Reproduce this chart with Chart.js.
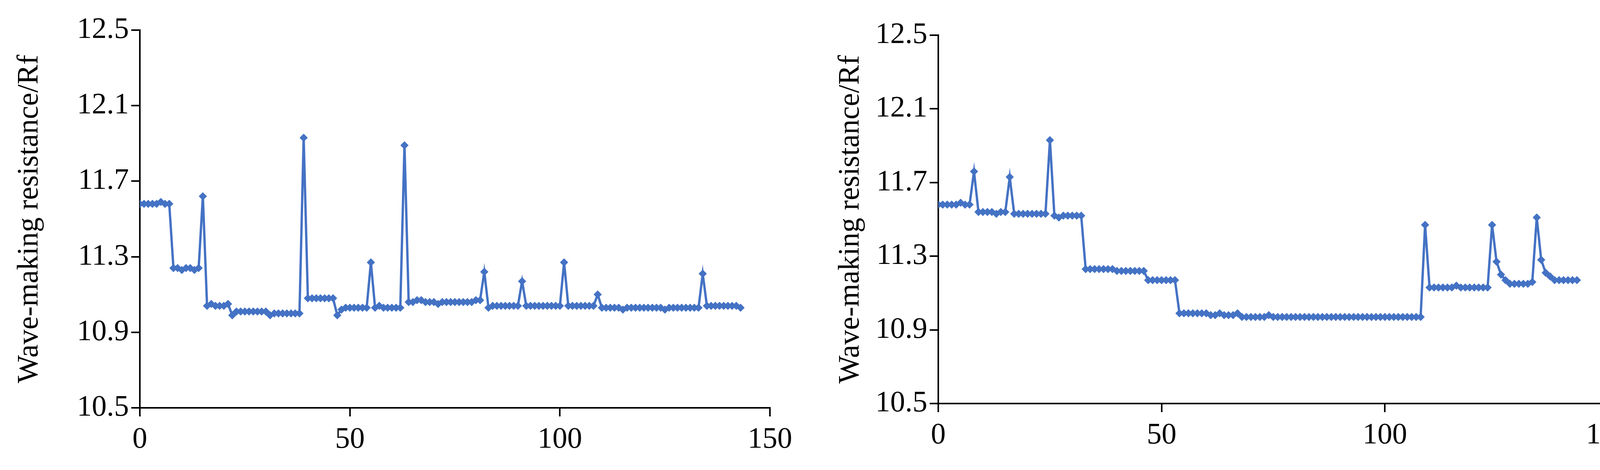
<!DOCTYPE html>
<html><head><meta charset="utf-8">
<script src="https://cdn.jsdelivr.net/npm/chart.js@4"></script>
<style>
body{margin:0;background:#fff;width:4205px;height:1202px;position:relative;overflow:hidden}
.c{position:absolute;top:0;height:1202px}
</style></head><body>
<div class="c" style="left:0;width:2071px"><canvas id="a"></canvas></div>
<div class="c" style="left:2102px;width:2103px"><canvas id="b"></canvas></div>
<script>
const leftValues = [
11.58,11.58,11.58,11.58,11.58,11.59,11.58,11.58,
11.24,11.24,11.23,11.24,11.24,11.23,11.24,
11.62,
11.04,11.05,11.04,11.04,11.04,11.05,
10.99,11.01,11.01,11.01,11.01,11.01,11.01,11.01,11.01,
10.99,11.00,11.00,11.00,11.00,11.00,11.00,11.00,
11.93,
11.08,11.08,11.08,11.08,11.08,11.08,11.08,
10.99,11.02,11.03,11.03,11.03,11.03,11.03,11.03,
11.27,
11.03,11.04,11.03,11.03,11.03,11.03,11.03,
11.89,
11.06,11.06,11.07,11.07,11.06,11.06,11.06,11.05,
11.06,11.06,11.06,11.06,11.06,11.06,11.06,11.06,11.07,11.07,
11.22,
11.03,11.04,11.04,11.04,11.04,11.04,11.04,11.04,
11.17,
11.04,11.04,11.04,11.04,11.04,11.04,11.04,11.04,11.04,
11.27,
11.04,11.04,11.04,11.04,11.04,11.04,11.04,
11.10,
11.03,11.03,11.03,11.03,11.03,11.02,11.03,11.03,11.03,11.03,11.03,11.03,
11.03,11.03,11.03,11.02,11.03,11.03,11.03,11.03,11.03,11.03,11.03,11.03,
11.21,
11.04,11.04,11.04,11.04,11.04,11.04,11.04,11.04,11.03
];
const rightValues = [
11.58,11.58,11.58,11.58,11.58,11.59,11.58,11.58,
11.76,
11.54,11.54,11.54,11.54,11.53,11.54,11.54,
11.73,
11.53,11.53,11.53,11.53,11.53,11.53,11.53,11.53,
11.93,
11.52,11.51,11.52,11.52,11.52,11.52,11.52,
11.23,11.23,11.23,11.23,11.23,11.23,11.23,
11.22,11.22,11.22,11.22,11.22,11.22,11.22,
11.17,11.17,11.17,11.17,11.17,11.17,11.17,
10.99,10.99,10.99,10.99,10.99,10.99,10.99,
10.98,10.98,10.99,10.98,10.98,10.98,10.99,
10.97,10.97,10.97,10.97,10.97,10.97,10.98,10.97,10.97,10.97,
10.97,10.97,10.97,10.97,10.97,10.97,10.97,10.97,10.97,10.97,
10.97,10.97,10.97,10.97,10.97,10.97,10.97,10.97,10.97,10.97,
10.97,10.97,10.97,10.97,10.97,10.97,10.97,10.97,10.97,10.97,10.97,
11.47,
11.13,11.13,11.13,11.13,11.13,11.13,11.14,11.13,11.13,11.13,11.13,11.13,11.13,11.13,
11.47,11.27,11.20,11.17,11.15,11.15,11.15,11.15,11.15,11.16,
11.51,11.28,11.21,11.19,11.17,11.17,11.17,11.17,11.17,11.17
];
const xTicks = [0,50,100,150];
const yTicks = [10.5,10.9,11.3,11.7,12.1,12.5];
const yTitle = 'Wave-making resistance/Rf';
const COLOR = '#4472C4';
Chart.defaults.font.family = '"Liberation Serif", "Times New Roman", serif';
Chart.defaults.color = '#000';

function make(id, values, pad, yW, xH) {
  const pts = values.map((v, i) => ({x: i, y: v}));
  new Chart(document.getElementById(id), {
    type: 'scatter',
    data: {datasets: [{data: pts, showLine: true, borderColor: COLOR, backgroundColor: COLOR,
      borderWidth: 6, pointStyle: 'rectRot', pointRadius: 10, pointBorderWidth: 1}]},
    options: {
      responsive: true, maintainAspectRatio: false, animation: false,
      layout: {padding: pad},
      plugins: {legend: {display: false}, tooltip: {enabled: false}},
      scales: {
        x: {type: 'linear', min: 0, max: 150,
          afterBuildTicks: s => { s.ticks = xTicks.map(v => ({value: v})); },
          afterFit: s => { s.height = xH; },
          grid: {drawOnChartArea: false, color: '#000', tickLength: 22, lineWidth: 4},
          border: {color: '#000', width: 4},
          ticks: {font: {size: 76}, padding: 14, maxRotation: 0}},
        y: {type: 'linear', min: 10.5, max: 12.5,
          afterBuildTicks: s => { s.ticks = yTicks.map(v => ({value: v})); },
          afterFit: s => { s.width = yW; },
          grid: {drawOnChartArea: false, color: '#000', tickLength: 22, lineWidth: 4},
          border: {color: '#000', width: 4},
          title: {display: true, text: yTitle, font: {size: 76}, padding: {top: 30, bottom: 0}},
          ticks: {font: {size: 76}, padding: 6, callback: v => v.toFixed(1)}}
      }
    }
  });
}
make('a', leftValues, {left: 0, top: 77, right: 100, bottom: 0}, 358, 159);
make('b', rightValues, {left: 0, top: 90, right: 88, bottom: 0}, 300, 170);
</script></body></html>
